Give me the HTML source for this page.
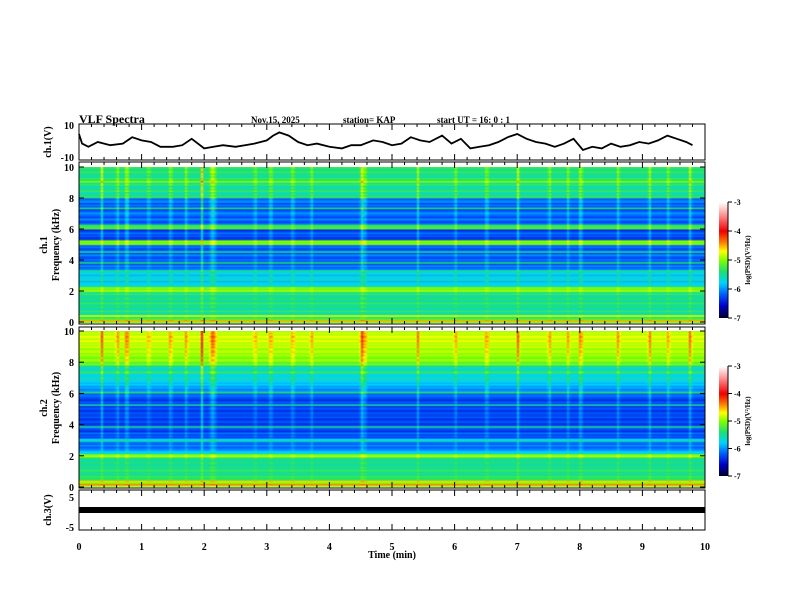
<!DOCTYPE html>
<html><head><meta charset="utf-8">
<style>
html,body{margin:0;padding:0;background:#fff;}
#wrap{position:relative;width:792px;height:612px;overflow:hidden;font-family:"Liberation Serif",serif;font-weight:bold;color:#000;}
canvas{position:absolute;}
svg{position:absolute;left:0;top:0;}
text{font-family:"Liberation Serif",serif;font-weight:bold;}
</style></head>
<body>
<div id="wrap">
<canvas id="spec1" width="313" height="100" style="left:79px;top:167px;width:626px;height:156px"></canvas>
<canvas id="spec2" width="313" height="100" style="left:79px;top:331px;width:626px;height:156px"></canvas>
<canvas id="cb1" width="1" height="120" style="left:719px;top:202px;width:9px;height:116px"></canvas>
<canvas id="cb2" width="1" height="120" style="left:719px;top:366px;width:9px;height:110px"></canvas>
<svg id="ax" width="792" height="612"></svg>
</div>
<script>
// ---- data ----
const timeTicks=[0,1,2,3,4,5,6,7,8,9,10];
const ch1Times=[0,0.05,0.15,0.3,0.5,0.7,0.85,1.0,1.15,1.3,1.5,1.65,1.8,2.0,2.15,2.3,2.5,2.65,2.8,3.0,3.1,3.2,3.35,3.5,3.65,3.8,4.0,4.2,4.35,4.5,4.7,4.85,5.0,5.15,5.3,5.45,5.6,5.8,5.95,6.1,6.25,6.4,6.55,6.7,6.85,7.0,7.15,7.3,7.45,7.6,7.75,7.9,8.05,8.2,8.35,8.5,8.65,8.8,8.95,9.1,9.25,9.4,9.55,9.7,9.8];
const ch1Volts=[5,-1,-3,0,-2,-1,3,1,0,-3,-3,-2,2,-4,-3,-2,-3,-2,-1,1,4,6,4,0,-2,-1,-3,-4,-2,-2,1,0,-2,-1,3,1,0,4,-1,2,-4,-3,-2,0,3,5,2,0,-1,-3,-1,2,-5,-3,-4,-1,-3,-2,0,-1,1,4,2,0,-2];
const ch3Volt=0;
const ch1Freq=[-5.0,-4.5,-5.2,-5.4,-4.8,-5.5,-5.6,-5.3,-5.7,-5.5,-5.4,-5.6,-5.3,-5.5,-5.6,-5.4,-5.5,-5.6,-5.3,-5.5,-4.9,-5.1,-5.0,-5.6,-5.8,-5.7,-5.9,-5.6,-5.8,-5.7,-5.9,-5.6,-5.8,-5.5,-6.1,-6.2,-6.0,-6.3,-5.4,-6.2,-6.1,-6.3,-6.2,-6.0,-6.3,-5.5,-6.2,-6.3,-6.1,-6.2,-5.0,-5.1,-5.0,-6.3,-6.4,-6.2,-6.3,-6.1,-6.3,-6.4,-5.2,-5.3,-5.3,-6.1,-6.3,-6.2,-6.0,-6.3,-6.2,-6.1,-6.0,-6.2,-6.3,-5.4,-6.2,-6.1,-6.3,-6.0,-6.1,-6.2,-5.3,-5.6,-5.4,-5.7,-5.3,-5.6,-5.4,-5.7,-5.3,-5.5,-5.0,-5.4,-5.3,-5.6,-5.4,-5.6,-5.3,-5.4,-5.5,-5.3];
const ch2Freq=[-4.9,-4.4,-5.0,-4.6,-5.3,-5.4,-5.3,-5.5,-5.4,-5.6,-5.3,-5.5,-5.4,-5.6,-5.5,-5.4,-5.6,-5.5,-5.4,-4.9,-5.0,-5.7,-5.8,-6.0,-6.1,-6.2,-6.0,-6.2,-6.1,-5.6,-5.8,-6.3,-6.2,-6.3,-6.1,-6.4,-6.3,-6.2,-5.5,-6.3,-6.4,-6.2,-6.3,-6.4,-6.2,-6.3,-6.3,-6.2,-6.4,-6.3,-6.2,-6.4,-5.6,-6.3,-6.2,-6.4,-6.3,-6.2,-6.1,-6.2,-5.4,-6.0,-6.1,-5.9,-6.0,-5.8,-5.9,-5.7,-5.8,-5.6,-5.7,-5.8,-5.6,-5.3,-5.6,-5.7,-5.5,-5.6,-5.0,-5.2,-5.0,-4.9,-5.1,-5.0,-4.9,-5.0,-4.8,-4.9,-5.0,-4.8,-4.9,-4.8,-4.9,-4.7,-4.9,-4.8,-4.7,-4.9,-4.8,-4.9];
const streakTimes=[0.35,0.6,0.75,1.1,1.45,1.7,1.95,2.1,2.15,2.8,3.05,3.4,3.7,4.5,4.55,5.4,6.0,6.5,7.0,7.5,7.8,8.0,8.6,9.1,9.4,9.75];
const streakStrength=[0.9,0.7,1.1,0.6,0.8,0.7,1.2,1.0,0.9,0.6,0.8,0.7,0.6,1.1,0.9,0.7,0.6,0.8,0.9,0.7,0.6,1.0,0.7,0.8,0.6,0.9];
const cbTicks=[-3,-4,-5,-6,-7];

// ---- scales ----
const X0=79,X1=705;
const xs=t=>X0+(X1-X0)*t/10;
const cmapStops=[[-7,[0,0,50]],[-6.6,[0,0,200]],[-6.2,[0,90,255]],[-5.8,[0,210,255]],[-5.4,[30,225,110]],[-5.0,[130,255,0]],[-4.7,[255,255,0]],[-4.4,[255,130,0]],[-4.0,[240,0,0]],[-3.5,[255,130,130]],[-3,[255,255,255]]];
function cmap(v){v=Math.max(-7,Math.min(-3,v));for(let i=1;i<cmapStops.length;i++){const[a,ca]=cmapStops[i-1],[b,cb]=cmapStops[i];if(v<=b){const f=(v-a)/(b-a);return ca.map((c,k)=>Math.round(c+(cb[k]-c)*f));}}return[255,255,255];}

function drawSpec(id,freq){
  const c=document.getElementById(id),ctx=c.getContext('2d'),W=c.width,H=c.height;
  const img=ctx.createImageData(W,H);
  for(let col=0;col<W;col++){
    const t=col/W*10; let s=0;
    streakTimes.forEach((st,k)=>{const d=Math.abs(t-st)*W/10;if(d<1)s=Math.max(s,streakStrength[k]*(1-d));});
    for(let r=0;r<H;r++){
      const fi=H-1-r; const w=fi/H;
      const v=freq[fi]+s*(0.15+0.6*w);
      const [R,G,B]=cmap(v);const p=(r*W+col)*4;
      img.data[p]=R;img.data[p+1]=G;img.data[p+2]=B;img.data[p+3]=255;
    }
  }
  ctx.putImageData(img,0,0);
}
drawSpec('spec1',ch1Freq);drawSpec('spec2',ch2Freq);
['cb1','cb2'].forEach(id=>{const c=document.getElementById(id),ctx=c.getContext('2d');for(let r=0;r<c.height;r++){const v=-3-4*r/(c.height-1);const[R,G,B]=cmap(v);ctx.fillStyle=`rgb(${R},${G},${B})`;ctx.fillRect(0,r,1,1);}});

// ---- svg ----
const NS='http://www.w3.org/2000/svg';const svg=document.getElementById('ax');
function el(tag,attrs,txt){const e=document.createElementNS(NS,tag);for(const k in attrs)e.setAttribute(k,attrs[k]);if(txt!==undefined)e.textContent=txt;svg.appendChild(e);return e;}
function txt(x,y,s,size,name,anchor,rot){const e=el('text',{x:x,y:y,'font-size':size,'text-anchor':anchor||'start'},s);if(rot)e.setAttribute('transform',`rotate(-90 ${x} ${y})`);

return e;}

const panels=[{y0:124,y1:160,name:'ch1-panel'},{y0:162,y1:324,name:'ch1-spec-panel'},{y0:327,y1:488,name:'ch2-spec-panel'},{y0:490,y1:530,name:'ch3-panel'}];
panels.forEach(p=>{
  const r=el('rect',{x:X0,y:p.y0,width:X1-X0,height:p.y1-p.y0,fill:'none',stroke:'#000','stroke-width':1});
  
  
  for(let i=0;i<=50;i++){const x=xs(i/5);const L=i%5===0?6:3;
    el('line',{x1:x,y1:p.y0,x2:x,y2:p.y0+L,stroke:'#000'});el('line',{x1:x,y1:p.y1,x2:x,y2:p.y1-L,stroke:'#000'});}
});
// ch1 waveform
const y1s=v=>142-v*16/10;
let d='';ch1Times.forEach((t,i)=>{d+=(i?'L':'M')+xs(t).toFixed(1)+' '+y1s(ch1Volts[i]).toFixed(1);});
const wf=el('path',{d:d,fill:'none',stroke:'#000','stroke-width':1.8});


// ch3 bar
const y3s=v=>510-v*15/5;
const b3=el('rect',{x:X0,y:y3s(ch3Volt)-3,width:X1-X0,height:6,fill:'#000'});


// y ticks labels
txt(74,129,'10',10,'ch1-ytick-10','end');txt(74,161,'-10',10,'ch1-ytick-neg10','end');
function fticks(y0,y1,pre){for(let k=0;k<=10;k+=2){const y=y1-(y1-y0)*k/10;txt(74,y+4,String(k),10,pre+'-ytick-'+k,'end');el('line',{x1:X0,y1:y,x2:X0+5,y2:y,stroke:'#000'});el('line',{x1:X1,y1:y,x2:X1-5,y2:y,stroke:'#000'});}}
fticks(167,322,'ch1');fticks(331,487,'ch2');
txt(74,501,'5',10,'ch3-ytick-5','end');txt(74,531,'-5',10,'ch3-ytick-neg5','end');
timeTicks.forEach(t=>txt(xs(t),550,String(t),10,'x-tick-'+t,'middle'));
txt(392,558,'Time  (min)',10,'x-axis-title','middle');
// axis titles
txt(51,142,'ch.1(V)',10,'ch1-y-title','middle',true);
txt(47,245,'ch.1',10,'ch1-spec-y-title','middle',true);
txt(59,245,'Frequency  (kHz)',10,'ch1-freq-title','middle',true);
txt(47,408,'ch.2',10,'ch2-spec-y-title','middle',true);
txt(59,408,'Frequency  (kHz)',10,'ch2-freq-title','middle',true);
txt(51,510,'ch.3(V)',10,'ch3-y-title','middle',true);
// header
txt(79,123,'VLF Spectra',12,'chart-title');
txt(251,123,'Nov.15, 2025',9,'date-label');
txt(343,123,'station= KAP',9,'station-label');
txt(437,123,'start  UT =   16: 0   : 1',9,'start-time-label');
// colorbar ticks
[[202,318,'cb1'],[366,476,'cb2']].forEach(([a,b,n])=>{cbTicks.forEach(v=>{const y=a+(b-a)*(-3-v)/4;el('line',{x1:728,y1:y,x2:732,y2:y,stroke:'#000'});txt(734,y+3,String(v),8,n+'-tick-'+v);});
el('line',{x1:728,y1:a,x2:728,y2:b,stroke:'#000'});
txt(750,(a+b)/2,'log(PSD)(V²/Hz)',7,n+'-title','middle',true);});
</script>
</body></html>
